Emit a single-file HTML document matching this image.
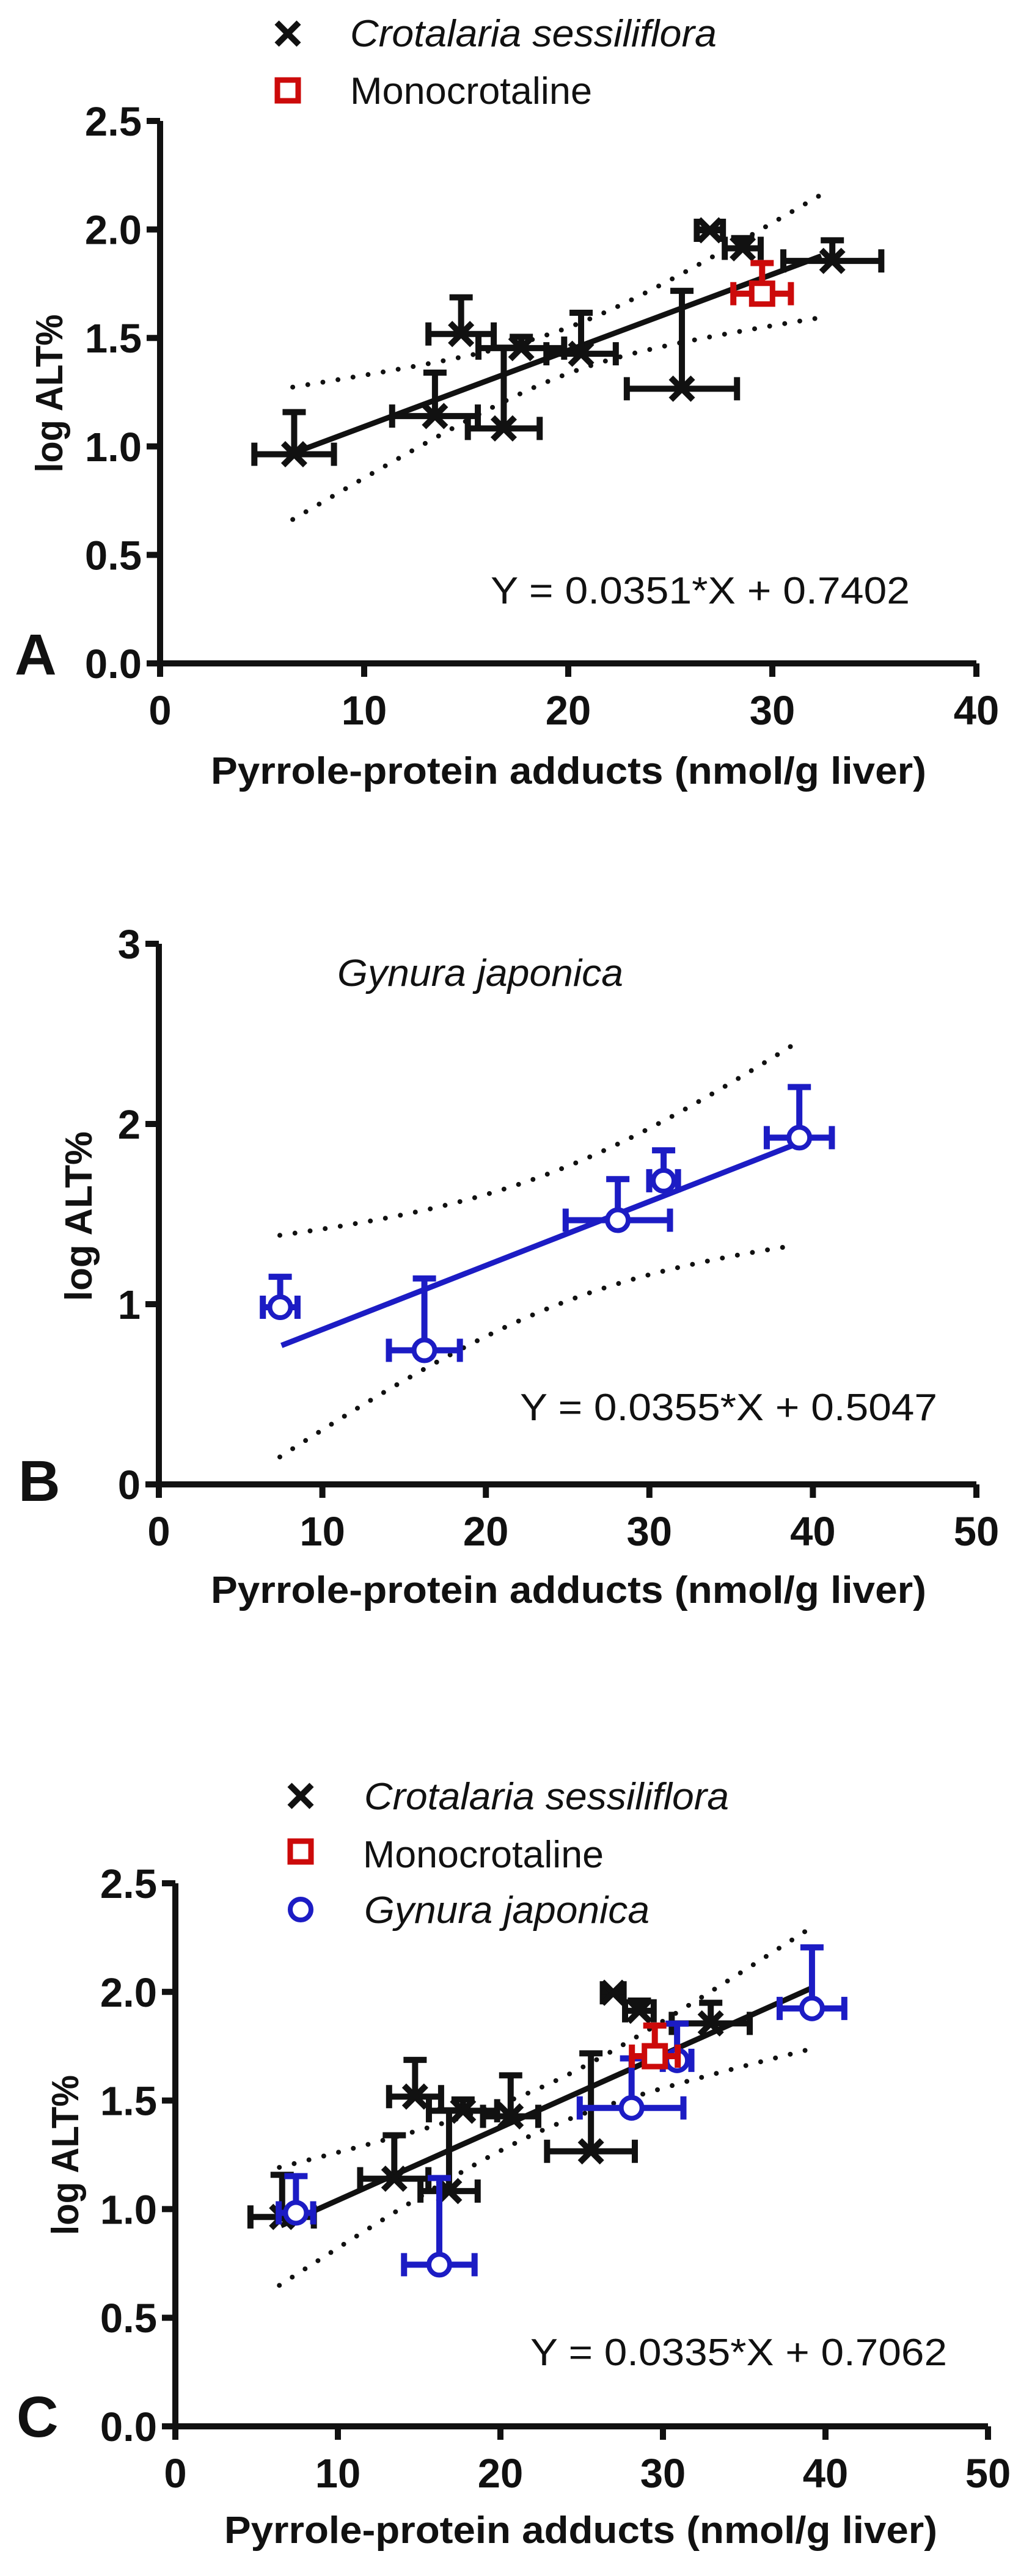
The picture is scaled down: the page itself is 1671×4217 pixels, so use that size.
<!DOCTYPE html>
<html><head><meta charset="utf-8"><style>html,body{margin:0;padding:0;background:#fff}svg{display:block}</style></head>
<body>
<svg id="s" xmlns="http://www.w3.org/2000/svg" width="1671" height="4217" viewBox="0 0 1671 4217">
<rect width="1671" height="4217" fill="#fff"/>
</svg>
<script>
const S=document.getElementById('s');const NS='http://www.w3.org/2000/svg';
function el(t,a,txt){const e=document.createElementNS(NS,t);for(const k in a)e.setAttribute(k,a[k]);if(txt!==undefined)e.textContent=txt;S.appendChild(e);return e;}
function line(x1,y1,x2,y2,c,w,extra){return el('line',Object.assign({x1,y1,x2,y2,stroke:c,'stroke-width':w},extra||{}));}
function txt(x,y,s,o){o=o||{};const a={x,y,'font-family':'Liberation Sans, sans-serif','font-size':o.fs||62,'font-weight':o.fw||'normal','text-anchor':o.anchor||'start',fill:'#111'};
 if(o.it)a['font-style']='italic';if(o.len){a.textLength=o.len;a.lengthAdjust='spacingAndGlyphs';}
 if(o.tr)a.transform=o.tr;
 return el('text',a,s);}
const BK='#111',RD='#cc0a0a',BL='#1c1cc4';
const EW=10;
function panel(P){
 const X=v=>P.x0+(P.x1-P.x0)*v/P.xmax, Y=v=>P.y0-(P.y0-P.yt)*v/P.ymax;
 line(P.x0,P.yt,P.x0,P.y0+22,BK,10);
 line(P.x0-22,P.y0,P.x1,P.y0,BK,10);
 P.yticks.forEach(v=>{line(P.x0-22,Y(v),P.x0,Y(v),BK,10);txt(P.x0-30,Y(v)+24,P.ylab(v),{fs:67,fw:'bold',anchor:'end'});});
 for(let v=0;v<=P.xmax;v+=10){line(X(v),P.y0,X(v),P.y0+22,BK,10);txt(X(v),P.y0+100,String(v),{fs:67,fw:'bold',anchor:'middle'});}
 const band=(sgn)=>{let d='';for(let i=0;i<=60;i++){const x=P.bx0+(P.bx1-P.bx0)*i/60;const yl=P.m*x+P.b+sgn*Math.sqrt(P.ba+P.bb*(x-P.bm)*(x-P.bm));d+=(i?'L':'M')+X(x).toFixed(1)+','+Y(yl).toFixed(1);}
  el('path',{d,fill:'none',stroke:BK,'stroke-width':8,'stroke-linecap':'round','stroke-dasharray':'0 25'});};
 band(1);band(-1);
 line(X(P.lx0),Y(P.m*P.lx0+P.b),X(P.lx1),Y(P.m*P.lx1+P.b),P.lc,9);
 P.series.forEach(s=>{s.d.forEach(p=>{const cx=X(p[0]),cy=Y(p[1]);const xl=X(p[0]-p[2]),xr=X(p[0]+p[2]),yu=Y(p[3]);
   line(xl,cy,xr,cy,s.c,EW);line(xl,cy-19,xl,cy+19,s.c,EW);line(xr,cy-19,xr,cy+19,s.c,EW);
   line(cx,cy,cx,yu,s.c,EW);line(cx-19,yu,cx+19,yu,s.c,EW);});
  s.d.forEach(p=>{marker(s.m,X(p[0]),Y(p[1]),s.c);});});
}
function marker(m,cx,cy,c){
 if(m==='x'){line(cx-18,cy-18,cx+18,cy+18,c,10);line(cx-18,cy+18,cx+18,cy-18,c,10);}
 else if(m==='s'){el('rect',{x:cx-17,y:cy-17,width:34,height:34,fill:'#fff',stroke:c,'stroke-width':9});}
 else {el('circle',{cx,cy,r:17,fill:'#fff',stroke:c,'stroke-width':8});}
}
const blackD=[[6.57,0.964,1.95,1.158],[13.47,1.14,2.1,1.34],[14.75,1.518,1.6,1.687],[16.84,1.083,1.76,1.455],[17.7,1.453,2.1,1.505],[20.63,1.427,1.7,1.616],[25.57,1.266,2.7,1.717],[26.94,1.996,0.64,2.0],[28.55,1.913,0.88,1.96],[32.94,1.855,2.4,1.95]];
const redD=[[29.5,1.704,1.41,1.845]];
const blueD=[[7.42,0.983,1.06,1.152],[16.24,0.744,2.17,1.143],[28.07,1.466,3.19,1.694],[30.87,1.685,0.88,1.854],[39.17,1.924,1.99,2.205]];
const f1=v=>v.toFixed(1);
panel({x0:262,x1:1598,xmax:40,y0:1086,yt:198,ymax:2.5,yticks:[0,0.5,1,1.5,2,2.5],ylab:f1,
 m:0.0351,b:0.7402,lx0:6.5,lx1:32.4,lc:BK,bx0:6.5,bx1:32.8,ba:0.0112,bb:0.000449,bm:20,
 series:[{d:blackD,c:BK,m:'x'},{d:redD,c:RD,m:'s'}]});
marker('x',471,55,BK);marker('s',471,148,RD);
txt(573,76,'Crotalaria sessiliflora',{it:1,len:600});
txt(573,170,'Monocrotaline',{len:396});
txt(803,988,'Y = 0.0351*X + 0.7402',{len:686});
txt(345,1283,'Pyrrole-protein adducts (nmol/g liver)',{fw:'bold',len:1171});
txt(0,0,'log ALT%',{fw:'bold',len:259,anchor:'middle',tr:'translate(102,644) rotate(-90)'});
txt(24,1104,'A',{fs:95,fw:'bold'});
panel({x0:260,x1:1598,xmax:50,y0:2430,yt:1545,ymax:3,yticks:[0,1,2,3],ylab:v=>String(v),
 m:0.0355,b:0.5047,lx0:7.5,lx1:38.9,lc:BL,bx0:7.4,bx1:38.9,ba:0.139,bb:0.000828,bm:24.4,
 series:[{d:blueD,c:BL,m:'o'}]});
txt(552,1614,'Gynura japonica',{it:1,len:468});
txt(851,2325,'Y = 0.0355*X + 0.5047',{len:683});
txt(345,2624,'Pyrrole-protein adducts (nmol/g liver)',{fw:'bold',len:1171});
txt(0,0,'log ALT%',{fw:'bold',len:278,anchor:'middle',tr:'translate(150,1991) rotate(-90)'});
txt(30,2457,'B',{fs:95,fw:'bold'});
panel({x0:287,x1:1617,xmax:50,y0:3972,yt:3083,ymax:2.5,yticks:[0,0.5,1,1.5,2,2.5],ylab:f1,
 m:0.0335,b:0.7062,lx0:6.5,lx1:39.1,lc:BK,bx0:6.4,bx1:39.0,ba:0.01,bb:0.000246,bm:22.5,
 series:[{d:blackD,c:BK,m:'x'},{d:blueD,c:BL,m:'o'},{d:redD,c:RD,m:'s'}]});
marker('x',492,2940,BK);marker('s',492,3031,RD);marker('o',492,3126,BL);
txt(596,2962,'Crotalaria sessiliflora',{it:1,len:597});
txt(594,3057,'Monocrotaline',{len:394});
txt(596,3148,'Gynura japonica',{it:1,len:467});
txt(868,3872,'Y = 0.0335*X + 0.7062',{len:682});
txt(367,4163,'Pyrrole-protein adducts (nmol/g liver)',{fw:'bold',len:1167});
txt(0,0,'log ALT%',{fw:'bold',len:262,anchor:'middle',tr:'translate(128,3528) rotate(-90)'});
txt(27,3989,'C',{fs:95,fw:'bold'});
</script>
</body></html>
